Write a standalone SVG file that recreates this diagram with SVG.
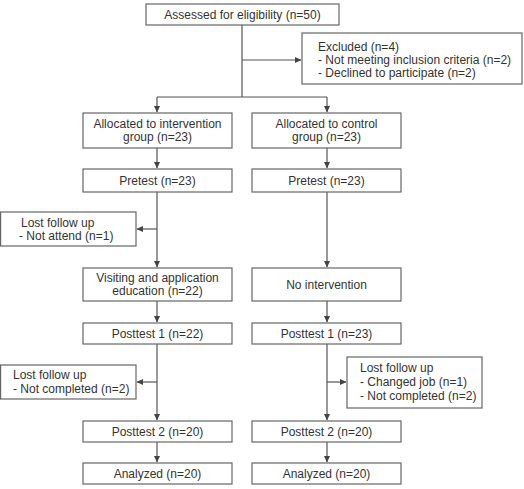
<svg xmlns="http://www.w3.org/2000/svg" width="524" height="489" viewBox="0 0 524 489">
<style>
.box{fill:#fff;stroke:#666;stroke-width:1.2}
.t{font-family:"Liberation Sans",Arial,sans-serif;font-size:12px;fill:#333}
.c{text-anchor:middle}
.ln{stroke:#555;stroke-width:1.2;fill:none}
.ar{marker-end:url(#ah)}
</style>
<defs>
<marker id="ah" markerWidth="7" markerHeight="7" refX="6" refY="3.5" orient="auto" markerUnits="userSpaceOnUse">
<path d="M0,0.5 L6.5,3.5 L0,6.5 Z" fill="#444"/>
</marker>
</defs>
<rect width="524" height="489" fill="#fff"/>
<g id="connectors">
<path class="ln" d="M242,25 V97 M157,97 H327"/>
<path class="ln ar" d="M242,60 H301"/>
<path class="ln ar" d="M157,97 V112"/>
<path class="ln ar" d="M327,97 V112"/>
<path class="ln ar" d="M157,148 V168"/>
<path class="ln ar" d="M327,148 V168"/>
<path class="ln ar" d="M157,192 V267"/>
<path class="ln ar" d="M157,229 H137"/>
<path class="ln ar" d="M327,192 V267"/>
<path class="ln ar" d="M157,301 V322"/>
<path class="ln ar" d="M327,301 V322"/>
<path class="ln ar" d="M157,344 V420"/>
<path class="ln ar" d="M157,382 H137"/>
<path class="ln ar" d="M327,344 V420"/>
<path class="ln ar" d="M327,382 H346"/>
<path class="ln ar" d="M157,442 V462"/>
<path class="ln ar" d="M327,442 V462"/>
</g>
<g id="assessed"><rect class="box" x="146" y="4" width="193" height="21"/><text class="t c" x="242.5" y="18.5">Assessed for eligibility (n=50)</text></g>
<g id="excluded"><rect class="box" x="302" y="33" width="220" height="51"/><text class="t" x="318" y="51">Excluded (n=4)</text><text class="t" x="318" y="64">- Not meeting inclusion criteria (n=2)</text><text class="t" x="318" y="77">- Declined to participate (n=2)</text></g>
<g id="alloc-int"><rect class="box" x="83" y="113" width="149" height="35"/><text class="t c" x="157.5" y="128">Allocated to intervention</text><text class="t c" x="157.5" y="141">group (n=23)</text></g>
<g id="alloc-ctl"><rect class="box" x="252" y="113" width="149" height="35"/><text class="t c" x="326.5" y="128">Allocated to control</text><text class="t c" x="326.5" y="141">group (n=23)</text></g>
<g id="pre-int"><rect class="box" x="83" y="169" width="149" height="23"/><text class="t c" x="157.5" y="184.5">Pretest (n=23)</text></g>
<g id="pre-ctl"><rect class="box" x="252" y="169" width="149" height="23"/><text class="t c" x="326.5" y="184.5">Pretest (n=23)</text></g>
<g id="lost1"><rect class="box" x="0.6" y="212" width="135.4" height="34"/><text class="t" x="21" y="227">Lost follow up</text><text class="t" x="19" y="240">- Not attend (n=1)</text></g>
<g id="visit"><rect class="box" x="83" y="268" width="149" height="33"/><text class="t c" x="157.5" y="281.5">Visiting and application</text><text class="t c" x="157.5" y="294.5">education (n=22)</text></g>
<g id="noint"><rect class="box" x="252" y="268" width="149" height="33"/><text class="t c" x="326.5" y="288.5">No intervention</text></g>
<g id="post1-int"><rect class="box" x="83" y="323" width="149" height="21"/><text class="t c" x="157.5" y="337.5">Posttest 1 (n=22)</text></g>
<g id="post1-ctl"><rect class="box" x="252" y="323" width="149" height="21"/><text class="t c" x="326.5" y="337.5">Posttest 1 (n=23)</text></g>
<g id="lost2"><rect class="box" x="0.6" y="365" width="135.4" height="34"/><text class="t" x="13" y="379">Lost follow up</text><text class="t" x="13" y="393">- Not completed (n=2)</text></g>
<g id="lost3"><rect class="box" x="347" y="357" width="135" height="51"/><text class="t" x="360" y="372">Lost follow up</text><text class="t" x="360" y="386">- Changed job (n=1)</text><text class="t" x="360" y="400">- Not completed (n=2)</text></g>
<g id="post2-int"><rect class="box" x="83" y="421" width="149" height="21"/><text class="t c" x="157.5" y="435.5">Posttest 2 (n=20)</text></g>
<g id="post2-ctl"><rect class="box" x="252" y="421" width="149" height="21"/><text class="t c" x="326.5" y="435.5">Posttest 2 (n=20)</text></g>
<g id="an-int"><rect class="box" x="83" y="463" width="149" height="21"/><text class="t c" x="157.5" y="477.5">Analyzed (n=20)</text></g>
<g id="an-ctl"><rect class="box" x="252" y="463" width="149" height="21"/><text class="t c" x="326.5" y="477.5">Analyzed (n=20)</text></g>
</svg>
